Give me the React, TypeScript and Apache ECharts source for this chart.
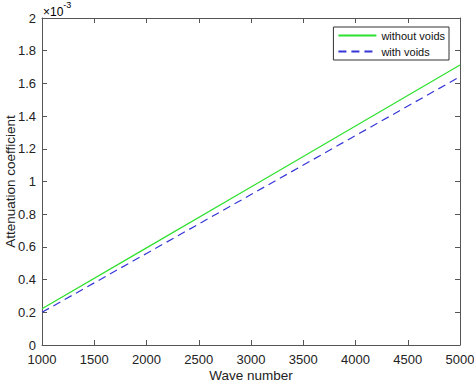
import React, { useEffect, useRef } from "react";
import * as echarts from "echarts";

const waveNumbers = [1000, 2000, 3000, 4000, 5000];
const withoutVoids = [0.222, 0.594, 0.967, 1.34, 1.712];
const withVoids = [0.2, 0.56, 0.92, 1.281, 1.641];
const seriesNames = ["without voids", "with voids"];

const FONT = "Liberation Sans, Arial, Helvetica, sans-serif";
const AXIS = "#555";

export default function App() {
  const ref = useRef<HTMLDivElement>(null);
  useEffect(() => {
    const chart = echarts.init(ref.current!, null, { renderer: "svg" });
    const xBase = {
      type: "value",
      min: 1000,
      max: 5000,
      interval: 500,
      axisLine: { show: true, onZero: false, lineStyle: { color: AXIS, width: 1 } },
      axisTick: { show: true, inside: true, length: 5, lineStyle: { color: AXIS } },
      splitLine: { show: false },
    };
    const yBase = {
      type: "value",
      min: 0,
      max: 2,
      interval: 0.2,
      axisLine: { show: true, onZero: false, lineStyle: { color: AXIS, width: 1 } },
      axisTick: { show: true, inside: true, length: 5, lineStyle: { color: AXIS } },
      splitLine: { show: false },
    };
    chart.setOption({
      animation: false,
      backgroundColor: "#fff",
      textStyle: { fontFamily: FONT },
      grid: {
        left: 42,
        right: 14,
        top: 18,
        bottom: 39,
        containLabel: false,
        outerBoundsMode: "none",
      },
      legend: {
        data: seriesNames,
        orient: "vertical",
        right: 25,
        top: 27,
        itemWidth: 38,
        itemHeight: 12,
        itemGap: 5,
        padding: [3, 4, 3, 4],
        borderColor: "#333",
        borderWidth: 1,
        backgroundColor: "#fff",
        itemStyle: { opacity: 0 },
        textStyle: { fontFamily: FONT, fontSize: 11, color: "#111" },
      },
      xAxis: [
        {
          ...xBase,
          position: "bottom",
          name: "Wave number",
          nameLocation: "middle",
          nameGap: 23,
          nameMoveOverlap: false,
          nameTextStyle: { fontFamily: FONT, fontSize: 13.5, color: "#222" },
          axisLabel: {
            show: true,
            margin: 8,
            fontFamily: FONT,
            fontSize: 13,
            color: "#222",
            formatter: (v: number) => String(v),
          },
        },
        { ...xBase, position: "top", axisLabel: { show: false } },
      ],
      yAxis: [
        {
          ...yBase,
          position: "left",
          name: "Attenuation coefficient",
          nameLocation: "middle",
          nameGap: 25,
          nameMoveOverlap: false,
          nameTextStyle: { fontFamily: FONT, fontSize: 13.5, color: "#222" },
          axisLabel: {
            show: true,
            margin: 6,
            fontFamily: FONT,
            fontSize: 13,
            color: "#222",
            formatter: (v: number) => String(Math.round(v * 10) / 10),
          },
        },
        { ...yBase, position: "right", axisLabel: { show: false } },
      ],
      graphic: [
        {
          type: "text",
          left: 43,
          top: 0,
          style: {
            text: "{a|×10}{b|-3}",
            rich: {
              a: { fontFamily: FONT, fontSize: 12, color: "#222", padding: [6, 0, 0, 0] },
              b: { fontFamily: FONT, fontSize: 9, color: "#222", verticalAlign: "top" },
            },
          },
        },
      ],
      series: [
        {
          name: seriesNames[0],
          type: "line",
          data: waveNumbers.map((x, i) => [x, withoutVoids[i]]),
          symbol: "none",
          lineStyle: { color: "#2ee02e", width: 1.2 },
          itemStyle: { color: "#2ee02e" },
        },
        {
          name: seriesNames[1],
          type: "line",
          data: waveNumbers.map((x, i) => [x, withVoids[i]]),
          symbol: "none",
          lineStyle: { color: "#3535d8", width: 1.2, type: [8, 5] },
          itemStyle: { color: "#3535d8" },
        },
      ],
    });
    return () => chart.dispose();
  }, []);
  return <div ref={ref} style={{ width: 474, height: 384, position: "absolute", left: 0, top: 0 }} />;
}
